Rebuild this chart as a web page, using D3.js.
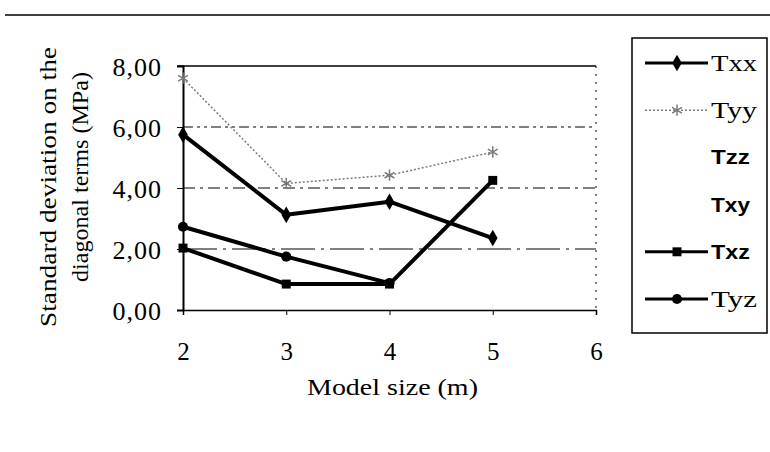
<!DOCTYPE html>
<html>
<head>
<meta charset="utf-8">
<script src="https://cdn.jsdelivr.net/npm/d3@7/dist/d3.min.js"></script>
<style>
  html, body { margin: 0; padding: 0; background: #fff; }
  svg { display: block; }
</style>
</head>
<body>
<svg id="chart" width="770" height="452"></svg>
<script>
// Model sizes (m) and standard deviations (MPa) per stress term
const sizes = [2, 3, 4, 5];
const txx = [5.75, 3.12, 3.55, 2.36];
const tyy = [7.6, 4.15, 4.42, 5.18];
const txz = [2.03, 0.85, 0.85, 4.25];
const tyz = [2.73, 1.75, 0.88, null];
const yTicks = [0, 2, 4, 6, 8];
const xTicks = [2, 3, 4, 5, 6];
const legendNames = ["Txx", "Tyy", "Tzz", "Txy", "Txz", "Tyz"];

const svg = d3.select("#chart");
const serif = "'Liberation Serif', 'Times New Roman', serif";
const sans = "'Liberation Sans', Arial, sans-serif";

const x = d3.scaleLinear().domain([2, 6]).range([183, 596]);
const y = d3.scaleLinear().domain([0, 8]).range([310, 66]);

// Places a text label at (px,py) with an optional rotation and stretches it
// horizontally (along its baseline) to the given width.
function wideText(parent, str, px, py, width, opts) {
  const o = Object.assign({ rotate: 0, anchor: "start", family: serif, size: 20, weight: "normal" }, opts);
  const gg = parent.append("g");
  const t = gg.append("text").attr("font-family", o.family).attr("font-size", o.size)
    .attr("font-weight", o.weight).attr("text-anchor", o.anchor).text(str);
  const natural = t.node().getComputedTextLength();
  const sx = width / natural;
  gg.attr("transform", `translate(${px},${py}) rotate(${o.rotate}) scale(${sx},1)`);
  return gg;
}

// rule across the top of the page
svg.append("line").attr("x1", 5).attr("x2", 770).attr("y1", 15).attr("y2", 15)
  .attr("stroke", "#000").attr("stroke-width", 1.5);

// horizontal grid lines
const g = svg.append("g");
const gridDash = { 2: "34,6,3,6", 4: "12,5,3,5", 6: "10,4,3,4,3,4" };
[2, 4, 6].forEach(v => {
  g.append("line").attr("x1", x(2)).attr("x2", x(6)).attr("y1", y(v)).attr("y2", y(v))
    .attr("stroke", "#000").attr("stroke-width", 1)
    .attr("stroke-dasharray", gridDash[v]);
});
// top frame and dotted right edge
g.append("line").attr("x1", x(2) - 6).attr("x2", x(6)).attr("y1", y(8)).attr("y2", y(8))
  .attr("stroke", "#000").attr("stroke-width", 1.5);
g.append("line").attr("x1", x(6)).attr("x2", x(6)).attr("y1", y(8)).attr("y2", y(0))
  .attr("stroke", "#000").attr("stroke-width", 1).attr("stroke-dasharray", "2,6");

// axes
const xAxis = d3.axisBottom(x).tickValues(xTicks).tickSize(5).tickPadding(0).tickFormat(d => d);
const yAxis = d3.axisLeft(y).tickValues(yTicks).tickSize(6).tickPadding(0)
  .tickFormat(d => d3.format(".2f")(d).replace(".", ","));

const gx = svg.append("g").attr("transform", `translate(0,${y(0)})`).call(xAxis);
gx.select(".domain").attr("stroke-width", 1.5);
gx.selectAll("text").attr("font-family", serif).attr("font-size", 25)
  .attr("y", 50).attr("dy", 0).attr("fill", "#000");

const gy = svg.append("g").attr("transform", `translate(${x(2)},0)`).call(yAxis);
gy.select(".domain").attr("stroke-width", 2);
gy.selectAll("text").attr("font-family", serif).attr("font-size", 26)
  .attr("x", -21).attr("dy", "0.36em").attr("letter-spacing", 1).attr("fill", "#000");

// axis titles
wideText(svg, "Model size (m)", 307, 395, 171, { size: 23 });
wideText(svg, "Standard deviation on the", 56, 187, 280, { size: 23, rotate: -90, anchor: "middle" });
wideText(svg, "diagonal terms (MPa)", 88, 177, 210, { size: 23, rotate: -90, anchor: "middle" });

// series
const line = d3.line().x(d => x(d.s)).y(d => y(d.v));
const pts = arr => sizes.map((s, i) => ({ s, v: arr[i] })).filter(d => d.v != null);

const series = [
  { name: "Txx", vals: txx, color: "#000", w: 4, marker: "diamond", dash: null },
  { name: "Tyy", vals: tyy, color: "#7a7a7a", w: 1.5, marker: "asterisk", dash: "2,2" },
  { name: "Txz", vals: txz, color: "#000", w: 4, marker: "square", dash: null },
  { name: "Tyz", vals: tyz, color: "#000", w: 4, marker: "circle", dash: null }
];

function marker(sel, type, color) {
  if (type === "asterisk") {
    sel.append("path").attr("d", d3.symbol(d3.symbolAsterisk, 90)())
      .attr("stroke", color).attr("stroke-width", 1.5).attr("fill", "none");
  } else {
    const t = type === "diamond" ? d3.symbolDiamond : type === "square" ? d3.symbolSquare : d3.symbolCircle;
    sel.append("path").attr("d", d3.symbol(t, 80)()).attr("fill", color);
  }
}

series.forEach(s => {
  const data = pts(s.vals);
  svg.append("path").datum(data).attr("d", line).attr("fill", "none")
    .attr("stroke", s.color).attr("stroke-width", s.w).attr("stroke-linejoin", "round")
    .attr("stroke-dasharray", s.dash);
  data.forEach(d => {
    const m = svg.append("g").attr("transform", `translate(${x(d.s)},${y(d.v)})`);
    marker(m, s.marker, s.color);
  });
});

// legend
const lg = svg.append("g");
lg.append("rect").attr("x", 632).attr("y", 38).attr("width", 135).attr("height", 295)
  .attr("fill", "none").attr("stroke", "#000").attr("stroke-width", 1.5);
const legY = d3.scalePoint().domain(legendNames).range([63, 299]);
const styleOf = Object.fromEntries(series.map(s => [s.name, s]));
legendNames.forEach(n => {
  const yy = legY(n);
  const s = styleOf[n];
  const bold = ["Tzz", "Txy", "Txz"].includes(n);
  if (s) {
    lg.append("line").attr("x1", 645).attr("x2", 708).attr("y1", yy).attr("y2", yy)
      .attr("stroke", s.color).attr("stroke-width", s.w === 4 ? 3 : 1.5)
      .attr("stroke-dasharray", s.dash);
    marker(lg.append("g").attr("transform", `translate(677,${yy})`), s.marker, s.color);
  }
  wideText(lg, n, 711, yy + (bold ? 7 : 8), bold ? 39 : 46,
    { family: bold ? sans : serif, weight: bold ? "bold" : "normal", size: bold ? 20 : 24 });
});
</script>
</body>
</html>
